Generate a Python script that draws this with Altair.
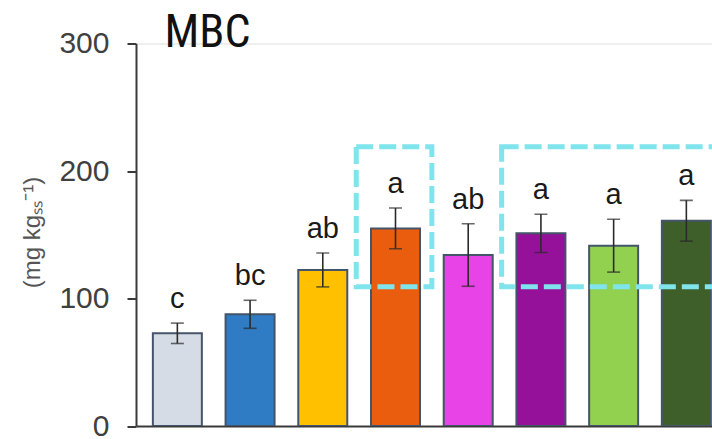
import altair as alt
import pandas as pd

# Treatment index (1..8), means, standard errors and significance letters
positions = [1, 2, 3, 4, 5, 6, 7, 8]
means = [72.7, 87.6, 122.4, 155.0, 134.1, 151.1, 141.4, 161.0]
errors = [8.0, 11.0, 13.3, 16.0, 24.5, 15.0, 20.7, 16.0]
letters = ["c", "bc", "ab", "a", "ab", "a", "a", "a"]
colors = ["#d6dce5", "#2f7bc4", "#ffc000", "#ea5d0e", "#e743e6",
          "#95119a", "#92d050", "#3f5f2a"]

# Highlight boxes (x in treatment units, y in mg/kg)
box_x = [3.46, 5.46]
box_x2 = [4.50, 8.70]
box_y = [109.3, 109.3]
box_y2 = [219.1, 219.1]

y_ticks = [0, 100, 200, 300]

df = pd.DataFrame({
    "pos": positions,
    "mean": means,
    "err": errors,
    "letter": letters,
    "color": colors,
})
df["lo"] = df["mean"] - df["err"]
df["hi"] = df["mean"] + df["err"]

boxes = pd.DataFrame({"x": box_x, "x2": box_x2, "y": box_y, "y2": box_y2})

x_scale = alt.Scale(domain=[0.5, 8.284], nice=False, zero=False)
y_scale = alt.Scale(domain=[0, 300], nice=False)

x_enc = alt.X(
    "pos:Q", scale=x_scale,
    axis=alt.Axis(labels=False, ticks=False, grid=False, title=None,
                  domainColor="#3a3a3a", domainWidth=2),
)
y_axis = alt.Axis(
    values=y_ticks, grid=False, tickSize=9, tickWidth=2, tickColor="#3a3a3a",
    domainColor="#3a3a3a", domainWidth=2,
    labelFont="Liberation Sans", labelFontSize=30, labelColor="#404040",
    labelPadding=18, labelFlush=False,
    title="(mg kgₛₛ⁻¹)", titleFont="Liberation Sans", titleFontSize=24,
    titleFontWeight="normal", titleColor="#555555", titleAngle=270,
    titleX=-104, titleY=188.5, titleAlign="center", titleBaseline="middle",
)

base = alt.Chart(df)

bars = base.mark_bar(size=49, stroke="#44546a", strokeWidth=2, clip=True).encode(
    x=x_enc,
    y=alt.Y("mean:Q", scale=y_scale, axis=y_axis),
    color=alt.Color("color:N", scale=None),
)

stems = base.mark_rule(color="#2b2b2b", strokeWidth=1.6, clip=True).encode(
    x="pos:Q", y="lo:Q", y2="hi:Q",
)
caps_hi = base.mark_tick(orient="horizontal", size=13, thickness=1.6,
                         color="#2b2b2b", clip=True).encode(x="pos:Q", y="hi:Q")
caps_lo = base.mark_tick(orient="horizontal", size=13, thickness=1.6,
                         color="#2b2b2b", clip=True).encode(x="pos:Q", y="lo:Q")

labels = base.mark_text(
    font="Liberation Sans", fontSize=29, color="#1a1a1a",
    baseline="alphabetic", dy=-15, clip=True,
).encode(x="pos:Q", y="hi:Q", text="letter:N")

box_marks = alt.Chart(boxes).mark_rect(
    filled=False, stroke="#7fe4eb", strokeWidth=5, strokeDash=[17, 6], clip=True,
).encode(x="x:Q", x2="x2:Q", y="y:Q", y2="y2:Q")

title = alt.Chart(pd.DataFrame({"t": ["MBC"]})).mark_text(
    font="Liberation Sans Narrow, Roboto Condensed, Roboto",
    fontSize=46, color="#111111", align="center", baseline="alphabetic",
).encode(x=alt.value(71.5), y=alt.value(3.5), text="t:N")

chart = alt.layer(bars, box_marks, stems, caps_hi, caps_lo, labels, title).properties(
    width=576, height=382.5,
    autosize=alt.AutoSizeParams(type="none"),
    padding={"left": 136, "top": 43.5, "right": 0, "bottom": 13},
).configure_view(stroke=None).configure(background="white")

chart.save("out.html", embed_options={"renderer": "svg", "actions": False})
